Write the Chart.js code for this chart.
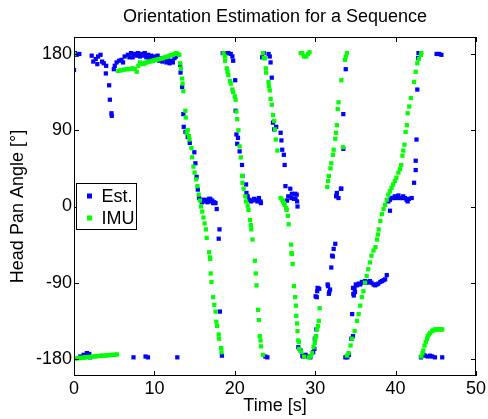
<!DOCTYPE html>
<html lang="en">
<head>
    <meta charset="UTF-8" />
    <title>Orientation Estimation for a Sequence</title>
    <script src="https://cdn.jsdelivr.net/npm/chart.js"></script>
    <style>
        body {
            margin: 0;
            background-color: #ffffff;
        }

        #wrap {
            width: 488px;
            height: 419px;
        }
    </style>
</head>
<body>
    <div id="wrap">
        <canvas id="orientChart" width="488" height="419"></canvas>
    </div>

    <script>
        // [time in s, head pan angle in deg]
        const estData = [
            [0, 161], [0.12, 181], [0.33, 179], [0.66, 180], [0.8, -177], [1.2, -175], [1.6, -173], [1.9, -174], [2.0, -178],
            [2.2, 178], [2.4, 171], [2.7, 174], [2.9, 168], [3.0, 177], [3.3, 179], [3.5, 171], [3.7, 169], [3.96, 157], [4.0, 166],
            [4.37, 143], [4.46, 126], [4.66, 110], [4.7, 107], [4.95, 162], [5.07, 166], [5.3, 170], [5.6, 172],
            [5.9, 173], [6.1, 170], [6.3, 177], [6.7, 179], [6.9, 176], [7.1, 181], [7.3, 176], [7.4, -178], [7.55, 180], [7.8, 178],
            [7.96, 181], [8.2, 177], [8.4, 180], [8.6, 178], [8.8, 181], [8.9, -177], [9.0, 176], [9.2, 179], [9.2, -178], [9.4, 175],
            [9.6, 178], [9.8, 174], [10.0, 177], [10.2, 176], [10.4, 178], [10.6, 172], [10.8, 175], [11.0, 171], [11.26, 174],
            [11.5, 170], [11.67, 173], [11.9, 169], [12.1, 172], [12.3, 170], [12.5, 175], [12.7, 177], [12.85, -178],
            [13.2, 167], [13.25, 158], [13.45, 141], [13.6, 109], [13.65, 94], [13.86, 88], [14.15, 82], [14.4, 75], [14.97, 64],
            [15.1, 51], [15.25, 35], [15.4, 20], [15.55, 10], [15.8, 8], [15.9, 5], [16.1, 6], [16.25, 8], [16.4, 7], [16.6, 5],
            [16.8, 9], [16.95, 9], [17.0, 6], [17.2, 7], [17.3, 4], [17.45, 5], [17.6, 4], [17.75, -3], [18.0, -38], [18.1, -27],
            [18.15, -124], [18.4, -176],
            [18.5, 181], [18.9, 181], [19.2, 181], [19.5, 180], [19.7, 177], [19.8, 172], [20.05, 149], [20.1, 113], [20.2, 85],
            [20.3, 74], [20.4, 81], [20.6, 65], [20.9, 49], [20.95, 36], [21.4, 26], [21.45, 16], [21.6, 12], [21.8, 8], [22.0, 6],
            [22.2, 7], [22.4, 9], [22.6, 8], [22.8, 6], [23.0, 10], [23.2, 6], [23.25, 4], [23.8, -177], [24.05, -178],
            [23.4, 176], [23.6, 181], [24.2, 180], [24.35, 177], [24.45, 170], [24.6, 152], [24.75, 99], [24.9, 91], [25.15, 94],
            [25.7, 87], [25.8, 78], [25.9, 67], [26.1, 61], [26.2, 49], [26.3, 24], [26.5, 7], [26.65, 12], [26.9, 21], [27.05, 10],
            [27.1, 15], [27.35, 9], [27.5, 15], [27.55, 9], [27.7, 14], [27.75, 6], [27.8, 0], [27.9, -166], [28.2, -170],
            [28.4, -176], [28.5, -177], [28.8, -175], [29.1, -177], [29.4, -178], [29.75, -172], [29.9, -168], [29.95, -156],
            [30.05, -106], [30.1, -153], [30.15, -145], [30.2, -107], [30.25, -100], [30.3, -96], [30.5, -97],
            [31.55, -92], [31.6, -94], [31.7, -103], [31.75, -101], [31.85, -98], [32.0, -72], [32.1, -58], [32.2, -59], [32.3, -50],
            [32.5, -44], [32.6, 12], [32.65, 13], [32.7, 16], [32.9, 10], [33.2, 21], [33.25, 21], [33.5, 68], [33.5, 109],
            [33.75, -178], [33.8, 162], [33.95, -177], [34.0, -178], [34.2, -175], [34.5, -156], [34.6, -127], [34.7, -153],
            [34.7, -96], [34.75, -103], [34.8, -105], [34.9, -97], [34.95, -101], [35.05, -92], [35.2, -93], [35.4, -91],
            [35.6, -92], [35.8, -89], [36.0, -90], [36.2, -88], [36.4, -90], [36.6, -89], [36.8, -88], [37.0, -90], [37.25, -92],
            [37.45, -93], [37.65, -92], [37.85, -91], [38.1, -89], [38.3, -88], [38.5, -87], [38.7, -86], [38.9, -81],
            [39.1, 6], [39.3, 8], [39.3, -5], [39.5, 10], [39.7, 10], [39.9, 12], [40.1, 10], [40.35, 13], [40.55, 10], [40.75, 10],
            [40.95, 12], [41.15, 10], [41.35, 8], [41.5, 6], [41.65, 9], [42.0, 10], [42.3, 28], [42.5, 43], [42.5, 54], [42.6, 79],
            [42.7, 138], [42.8, 175], [42.85, 181], [43.15, -178], [43.45, -175], [43.65, -176], [44.0, -177], [44.3, -176],
            [44.55, -177], [44.9, -178], [45.1, 180], [45.4, 180], [45.7, 179], [45.8, -178]
        ];

        const imuData = [
            [0, 180], [0.1, -179.5], [0.35, -179], [0.6, -179], [0.85, -178.5], [1.1, -178.5], [1.35, -178], [1.6, -178],
            [1.85, -177.5], [2.1, -177.5], [2.35, -177], [2.6, -177], [2.85, -176.5], [3.1, -176.5], [3.35, -176], [3.6, -176],
            [3.85, -176], [4.1, -175.5], [4.35, -175.5], [4.6, -175], [4.85, -175], [5.1, -175], [5.35, -174.5],
            [5.5, 160], [5.75, 160.5], [6.0, 161], [6.25, 161.5], [6.5, 162], [6.75, 162], [7.0, 162.5], [7.3, 163], [7.55, 162],
            [7.8, 159], [8.0, 166], [8.2, 170], [8.4, 169], [8.6, 168], [8.8, 169], [9.0, 170], [9.2, 170.5], [9.4, 171],
            [9.6, 171.5], [9.8, 172], [10.0, 172.5], [10.2, 173], [10.4, 173.5], [10.6, 174], [10.85, 174.5], [11.05, 175],
            [11.3, 176], [11.5, 176.5], [11.7, 177], [11.9, 178], [12.1, 178.5], [12.3, 179], [12.5, 180], [12.7, 181], [12.9, 180],
            [13.1, 179], [13.2, 169], [13.3, 163], [13.45, 151], [13.5, 145], [13.6, 136], [13.85, 113], [13.9, 105], [14.0, 87],
            [14.15, 90], [14.3, 83], [14.36, 79], [14.6, 69], [14.7, 58], [14.85, 47], [15.0, 40], [15.2, 32], [15.35, 24],
            [15.5, 14], [15.65, 7], [15.8, 0], [15.95, -6], [16.1, -13], [16.25, -20], [16.4, -27], [16.5, -37], [16.8, -54],
            [16.9, -60], [16.95, -62], [17.0, -79], [17.1, -89], [17.3, -107], [17.45, -116], [17.6, -124], [17.7, -136],
            [17.8, -141], [18.0, -151], [18.05, -156], [18.3, -167], [18.35, -172],
            [18.6, 181], [18.8, 177], [18.8, 172], [19.0, 163], [19.1, 159], [19.2, 155], [19.4, 148], [19.5, 145], [19.7, 138],
            [19.8, 135], [20.0, 130], [20.1, 126], [20.2, 112], [20.3, 103], [20.45, 90], [20.6, 71], [20.75, 58], [20.9, 36],
            [20.95, 28], [21.1, 21], [21.3, 12], [21.4, 6], [21.6, 1], [21.7, -4], [21.9, -16], [22.0, -22], [22.05, -27],
            [22.2, -39], [22.5, -64], [22.6, -79], [22.7, -93], [22.9, -122], [23.0, -134], [23.1, -153], [23.2, -158],
            [23.25, -165], [23.5, -175],
            [23.5, 181], [23.6, 175], [23.75, 175], [23.85, 163], [23.9, 158], [24.2, 147], [24.25, 142], [24.35, 137],
            [24.45, 127], [24.6, 120], [24.75, 108], [24.9, 101], [25.0, 91], [25.1, 79], [25.3, 66], [25.7, 10], [25.9, 8],
            [26.0, 6], [26.1, 4], [26.2, 2], [26.4, -2], [26.45, -4], [26.6, -11], [26.7, -21], [27.0, -45], [27.05, -55],
            [27.1, -56], [27.2, -68], [27.35, -94], [27.5, -107], [27.6, -117], [27.65, -129], [27.75, -138], [27.8, -147],
            [27.9, -158], [27.95, -160], [28.0, -168], [28.25, -171], [28.6, -177], [29.2, -178], [29.4, -177], [29.6, -173],
            [29.8, -166], [29.95, -161], [30.0, -156], [30.1, -153], [30.25, -145], [30.35, -141], [30.45, -135], [30.55, -120],
            [28.2, 181], [28.4, 181], [28.6, 177], [28.9, 177], [29.1, 180], [29.3, 182],
            [31.5, 23], [31.6, 30], [31.7, 36], [31.9, 45], [32.0, 51], [32.2, 61], [32.3, 67], [32.5, 80], [32.6, 87], [32.7, 96],
            [32.8, 115], [32.9, 123], [33.25, 149], [33.45, 70], [33.7, 173], [33.8, 177], [33.95, 181],
            [33.95, -176], [34.15, -173], [34.4, -164], [34.6, -156], [34.9, -147], [35.2, -135], [35.4, -127], [35.6, -117],
            [35.8, -107], [36.0, -100], [36.2, -90], [36.4, -82], [36.6, -74], [36.8, -66], [37.0, -58], [37.25, -52],
            [37.5, -48], [37.7, -39], [37.8, -33], [37.9, -27], [38.1, -17], [38.3, -9], [38.5, -3], [38.7, 2], [38.9, 8],
            [39.1, 14], [39.3, 18], [39.5, 22], [39.7, 26], [39.9, 30], [40.1, 34], [40.35, 40], [40.55, 44], [40.7, 49],
            [40.85, 60], [40.95, 66], [41.1, 73], [41.25, 88], [41.4, 96], [41.5, 110], [41.7, 118], [41.9, 128], [42.3, 147],
            [42.5, 159], [42.7, 169], [42.9, 174], [43.15, 179], [43.2, 181],
            [43.2, -177], [43.35, -173], [43.45, -170], [43.6, -164], [43.75, -160], [43.9, -156], [44.0, -153], [44.15, -151],
            [44.3, -149], [44.55, -147], [44.7, -146], [44.9, -145], [45.1, -145], [45.3, -145], [45.5, -145], [45.65, -145],
            [45.8, -145]
        ];

        const seriesNames = ['Est.', 'IMU'];
        const seriesColors = ['#0000ff', '#00ff00'];
        const xTicks = [0, 10, 20, 30, 40, 50];
        const yTicks = [-180, -90, 0, 90, 180];
        const chartTitle = 'Orientation Estimation for a Sequence';

        Chart.defaults.font.family = "'Liberation Sans', Arial, sans-serif";
        Chart.defaults.color = '#000';

        const toPoints = arr => arr.map(p => ({ x: p[0], y: p[1] }));

        // matlab-ish box with inward ticks, title over the axes, legend inside
        const boxPlugin = {
            id: 'boxPlugin',
            afterDatasetsDraw(chart) {
                const { ctx, chartArea: a, scales } = chart;
                ctx.save();
                ctx.strokeStyle = '#000';
                ctx.lineWidth = 1;
                ctx.strokeRect(a.left + 0.5, a.top + 0.5, a.right - a.left - 1, a.bottom - a.top - 1);

                ctx.beginPath();
                xTicks.forEach(v => {
                    const px = Math.round(scales.x.getPixelForValue(v)) + 0.5;
                    ctx.moveTo(px, a.bottom);
                    ctx.lineTo(px, a.bottom - 5);
                    ctx.moveTo(px, a.top);
                    ctx.lineTo(px, a.top + 5);
                });
                yTicks.forEach(v => {
                    const py = Math.round(scales.y.getPixelForValue(v)) + 0.5;
                    ctx.moveTo(a.left, py);
                    ctx.lineTo(a.left + 5, py);
                    ctx.moveTo(a.right, py);
                    ctx.lineTo(a.right - 5, py);
                });
                ctx.stroke();

                ctx.font = "18px 'Liberation Sans', Arial, sans-serif";
                ctx.fillStyle = '#000';
                ctx.textAlign = 'center';
                ctx.textBaseline = 'middle';
                ctx.fillText(chartTitle, (a.left + a.right) / 2, 17);

                // legend
                const lx = 76.5, ly = 183.5, lw = 60, lh = 46;
                ctx.fillStyle = '#fff';
                ctx.fillRect(lx, ly, lw, lh);
                ctx.strokeRect(lx, ly, lw, lh);
                ctx.textAlign = 'left';
                seriesNames.forEach((name, i) => {
                    const cy = ly + 12.5 + i * 22;
                    ctx.fillStyle = seriesColors[i];
                    ctx.fillRect(lx + 10.5, cy - 2.5, 5, 5);
                    ctx.fillStyle = '#000';
                    ctx.fillText(name, lx + 25, cy + 1);
                });
                ctx.restore();
            }
        };

        const ctx = document.getElementById('orientChart').getContext('2d');
        new Chart(ctx, {
            type: 'scatter',
            data: {
                datasets: [
                    {
                        label: seriesNames[0],
                        data: toPoints(estData),
                        pointStyle: 'rect',
                        pointRadius: 3.0,
                        backgroundColor: seriesColors[0],
                        borderWidth: 0,
                        order: 2
                    },
                    {
                        label: seriesNames[1],
                        data: toPoints(imuData),
                        pointStyle: 'rect',
                        pointRadius: 3.0,
                        backgroundColor: seriesColors[1],
                        borderWidth: 0,
                        order: 1
                    }
                ]
            },
            options: {
                responsive: false,
                animation: false,
                events: [],
                layout: { padding: { top: 37, right: 10, bottom: 0, left: 0 } },
                plugins: {
                    legend: { display: false },
                    tooltip: { enabled: false },
                    title: { display: false }
                },
                scales: {
                    x: {
                        type: 'linear',
                        position: 'bottom',
                        min: 0,
                        max: 50,
                        grid: { display: false, drawTicks: false },
                        border: { display: false },
                        ticks: { font: { size: 18 }, padding: 2, maxRotation: 0, color: '#000' },
                        afterBuildTicks: s => { s.ticks = xTicks.map(v => ({ value: v })); },
                        afterFit: s => { s.height = 43; },
                        title: {
                            display: true,
                            text: 'Time [s]',
                            color: '#000',
                            font: { size: 18 },
                            padding: { top: 0, bottom: 2 }
                        }
                    },
                    y: {
                        type: 'linear',
                        min: -200,
                        max: 200,
                        grid: { display: false, drawTicks: false },
                        border: { display: false },
                        ticks: { font: { size: 18 }, padding: 2, color: '#000' },
                        afterBuildTicks: s => { s.ticks = yTicks.map(v => ({ value: v })); },
                        afterFit: s => { s.width = 74; },
                        title: {
                            display: true,
                            text: 'Head Pan Angle [°]',
                            color: '#000',
                            font: { size: 18 },
                            padding: { top: 7.2, bottom: 0 }
                        }
                    }
                }
            },
            plugins: [boxPlugin]
        });
    </script>
</body>
</html>
